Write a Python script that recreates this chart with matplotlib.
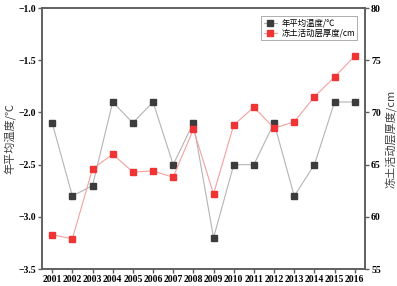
import matplotlib
matplotlib.use("Agg")
import matplotlib.pyplot as plt

years = [2001, 2002, 2003, 2004, 2005, 2006, 2007, 2008,
         2009, 2010, 2011, 2012, 2013, 2014, 2015, 2016]
temp = [-2.1, -2.8, -2.7, -1.9, -2.1, -1.9, -2.5, -2.1,
        -3.2, -2.5, -2.5, -2.1, -2.8, -2.5, -1.9, -1.9]
depth = [58.3, 57.9, 64.6, 66.0, 64.3, 64.4, 63.8, 68.4,
         62.2, 68.8, 70.5, 68.5, 69.1, 71.5, 73.4, 75.4]

cjk = ['Noto Sans CJK SC', 'DejaVu Sans']
spine_c = '#606060'

fig = plt.figure(figsize=(3.97, 2.86), dpi=100)
ax = fig.add_axes([0.106, 0.059, 0.813, 0.913])
ax2 = ax.twinx()

l1, = ax.plot(years, temp, color='#b4b4b4', lw=0.8, marker='s', ms=4.3,
              mfc='#3c3c3c', mec='#3c3c3c', label='年平均温度/℃', zorder=3)
l2, = ax2.plot(years, depth, color='#f4a0a0', lw=0.8, marker='s', ms=4.3,
               mfc='#f03434', mec='#f03434', label='冻土活动层厚度/cm', zorder=3)

ax.set_xlim(2000.5, 2016.5)
ax.set_ylim(-3.5, -1.0)
ax2.set_ylim(55, 80)
ax.set_xticks(years)
ax.set_yticks([-3.5, -3.0, -2.5, -2.0, -1.5, -1.0])
ax2.set_yticks([55, 60, 65, 70, 75, 80])

for a in (ax, ax2):
    for s in a.spines.values():
        s.set_color(spine_c)
        s.set_linewidth(1.2)
    a.tick_params(direction='out', length=3, width=1, color=spine_c, pad=1.5)
    for lab in a.get_xticklabels() + a.get_yticklabels():
        lab.set_family('Liberation Serif')
        lab.set_fontweight('bold')
        lab.set_fontsize(7)

ax.set_ylabel('年平均温度/℃', family=cjk, fontsize=8, color='#404040', labelpad=2)
ax2.set_ylabel('冻土活动层厚度/cm', family=cjk, fontsize=8, color='#404040', labelpad=3)

leg = ax.legend(handles=[l1, l2], loc='upper right', prop={'family': cjk, 'size': 6},
                frameon=True, fancybox=False, edgecolor='#888888', borderpad=0.3,
                handlelength=1.6, handletextpad=0.5, labelspacing=0.15,
                bbox_to_anchor=(0.99, 0.985))
leg.get_frame().set_linewidth(0.6)

fig.savefig('out.png', dpi=100)
